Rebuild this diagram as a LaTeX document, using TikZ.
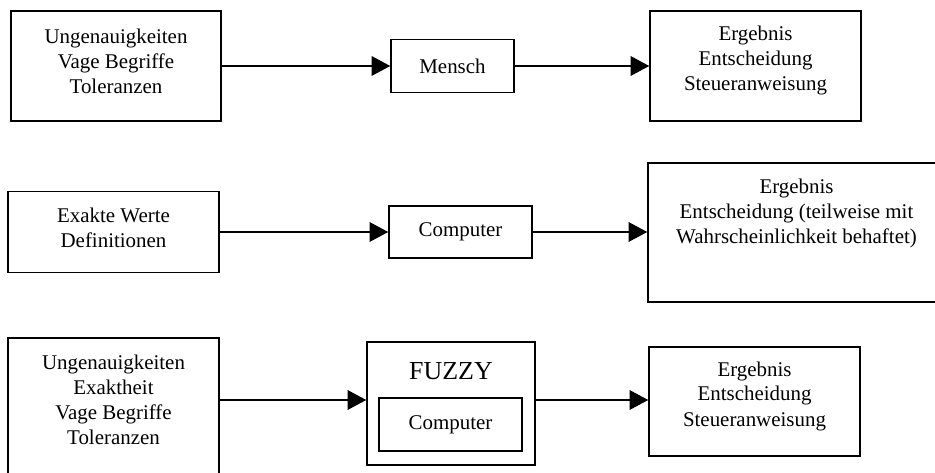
\documentclass[tikz,border=0pt]{standalone}
\usepackage{fontspec}
\setmainfont{Liberation Serif}
\usetikzlibrary{arrows.meta}

\tikzset{
  box/.style={draw, line width=0.8pt, rectangle, inner sep=0pt},
  txt/.style={align=center, inner sep=0pt, font=\fontsize{11.3}{13.5}\selectfont},
  arr/.style={line width=0.8pt, -{Triangle[length=10pt,width=10.5pt]}},
}

\begin{document}
\begin{tikzpicture}[x=0.54pt, y=-0.54pt]
  \useasboundingbox (0,0) rectangle (935,473);
  \clip (0,0) rectangle (935,473);

  % --- first row: human reasoning
  \node[box, minimum width=210*0.54pt, minimum height=110*0.54pt] (a1) at (116,66) {};
  \node[txt] (a1t) at (116,61.5) {Ungenauigkeiten\\Vage Begriffe\\Toleranzen};
  \node[box, txt, minimum width=123*0.54pt, minimum height=53*0.54pt] (mensch) at (452.5,66) {Mensch};
  \node[box, minimum width=211*0.54pt, minimum height=110*0.54pt] (r1) at (755.5,66) {};
  \node[txt] (r1t) at (755.5,60.5) {Ergebnis\\Entscheidung\\Steueranweisung};
  \draw[arr] (a1) -- (mensch);
  \draw[arr] (mensch) -- (r1);

  % --- second row: conventional computer
  \node[box, minimum width=211*0.54pt, minimum height=81*0.54pt] (b1) at (113.5,232) {};
  \node[txt] (b1t) at (113.5,227.5) {Exakte Werte\\Definitionen};
  \node[box, txt, minimum width=143*0.54pt, minimum height=52*0.54pt] (comp) at (460.5,232) {Computer};
  \node[box, minimum width=297*0.54pt, minimum height=139*0.54pt] (r2) at (796.5,232.5) {};
  \node[txt] (r2t) at (796.5,213)
    {Ergebnis\\Entscheidung (teilweise mit\\Wahrscheinlichkeit behaftet)};
  \draw[arr] (b1) -- (comp);
  \draw[arr] (comp) -- (r2.west |- comp);

  % --- third row: fuzzy computer
  \coordinate (row3) at (0,400);
  \node[box, minimum width=211*0.54pt, minimum height=142*0.54pt] (c1) at (113.5,409) {};
  \node[txt] (c1t) at (113.5,400)
    {Ungenauigkeiten\\Exaktheit\\Vage Begriffe\\Toleranzen};
  \node[box, minimum width=168*0.54pt, minimum height=123*0.54pt] (fuzzy) at (451,403.5) {};
  \node[inner sep=0pt, font=\fontsize{14}{16}\selectfont] (fuzzyt) at (451,371) {FUZZY};
  \node[box, txt, minimum width=143*0.54pt, minimum height=53*0.54pt] (comp2) at (450.5,424.5) {Computer};
  \node[box, minimum width=211*0.54pt, minimum height=109*0.54pt] (r3) at (754.5,401.5) {};
  \node[txt] (r3t) at (754.5,396) {Ergebnis\\Entscheidung\\Steueranweisung};
  \draw[arr] (c1.east |- row3) -- (fuzzy.west |- row3);
  \draw[arr] (fuzzy.east |- row3) -- (r3.west |- row3);
\end{tikzpicture}
\end{document}
